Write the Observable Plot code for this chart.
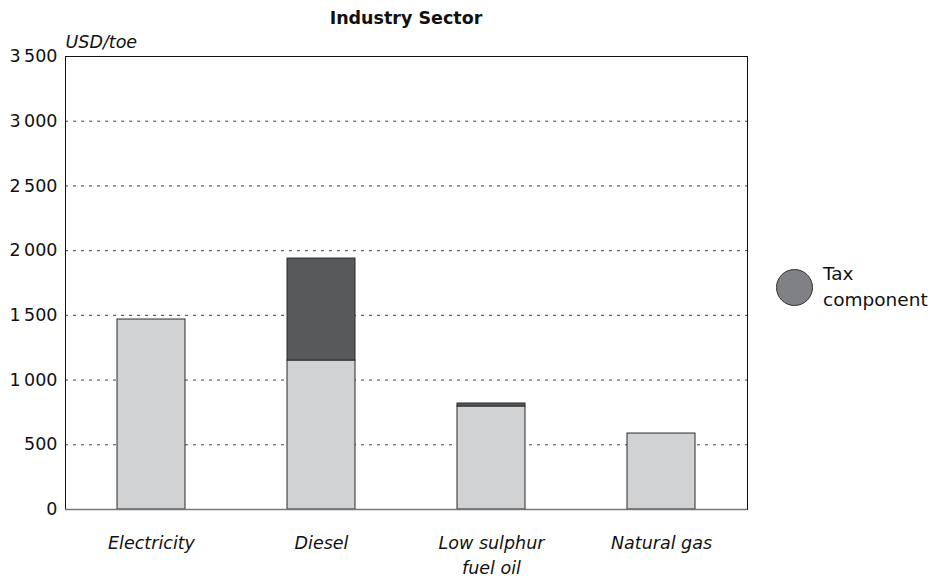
<!DOCTYPE html>
<html>
<head>
<meta charset="utf-8">
<script src="https://cdn.jsdelivr.net/npm/d3@7"></script>
<script src="https://cdn.jsdelivr.net/npm/@observablehq/plot@0.6"></script>
<style>
  body { margin: 0; background: #fff; }
  #wrap { position: relative; width: 942px; height: 578px; font-family: "DejaVu Sans", sans-serif; color: #111; }
  #title { position: absolute; left: 0; width: 812px; top: 8px; text-align: center; font-weight: bold; font-size: 17.5px; }
  #legend { position: absolute; left: 776px; top: 261px; display: flex; align-items: center; }
  #legend .sw { width: 37px; height: 37px; border-radius: 50%; background: #808184; border: 1px solid #333; box-sizing: border-box; }
  #legend .lb { margin-left: 10px; font-size: 18.5px; line-height: 26px; }
</style>
</head>
<body>
<div id="wrap">
  <div id="title">Industry Sector</div>
  <div id="legend"><div class="sw"></div><div class="lb">Tax<br>component</div></div>
</div>
<script>
const categories = ["Electricity", "Diesel", "Low sulphur\nfuel oil", "Natural gas"];
const basePrice = [1468, 1151, 796, 587];
const taxComponent = [0, 788, 23, 0];
const yTicks = [0, 500, 1000, 1500, 2000, 2500, 3000, 3500];
const components = ["Price", "Tax"];
const colors = ["#d1d2d4", "#58595b"];

const rows = [];
categories.forEach((c, i) => {
  rows.push({cat: c, comp: "Price", value: basePrice[i]});
  rows.push({cat: c, comp: "Tax", value: taxComponent[i]});
});

const fmt = d => d >= 1000 ? `${Math.floor(d / 1000)}\u2009${String(d % 1000).padStart(3, "0")}` : String(d);

const chart = Plot.plot({
  width: 942,
  height: 578,
  marginLeft: 65,
  marginRight: 195,
  marginTop: 56,
  marginBottom: 69,
  style: {fontFamily: "DejaVu Sans, sans-serif", fontSize: "16px", color: "#111", background: "#fff"},
  x: {domain: categories, paddingInner: 0.6, paddingOuter: 0.3, label: null},
  y: {domain: [0, 3500], label: null},
  color: {domain: components, range: colors},
  marks: [
    Plot.gridY(yTicks.filter(d => d > 0 && d < 3500), {stroke: "#444", strokeOpacity: 1, strokeDasharray: "3,5", strokeWidth: 1}),
    Plot.barY(rows, {x: "cat", y: "value", fill: "comp", stroke: "#2a2a2a", strokeWidth: 1, order: components}),
    Plot.frame({stroke: "#111", strokeWidth: 1}),
    Plot.ruleY([0], {stroke: "#777", strokeWidth: 1.5}),
    Plot.axisY({ticks: yTicks, tickFormat: fmt, tickSize: 0, tickPadding: 8, fontSize: 17.5, label: null}),
    Plot.axisX({tickSize: 0, tickPadding: 21, fontSize: 17.5, fontStyle: "italic", label: null, lineHeight: 1.45}),
    Plot.text(["USD/toe"], {frameAnchor: "top-left", dy: -21, dx: 0, textAnchor: "start", fontStyle: "italic", fontSize: 17.5})
  ]
});
document.getElementById("wrap").prepend(chart);
chart.style.position = "absolute";
chart.style.left = "0";
chart.style.top = "0";
</script>
</body>
</html>
